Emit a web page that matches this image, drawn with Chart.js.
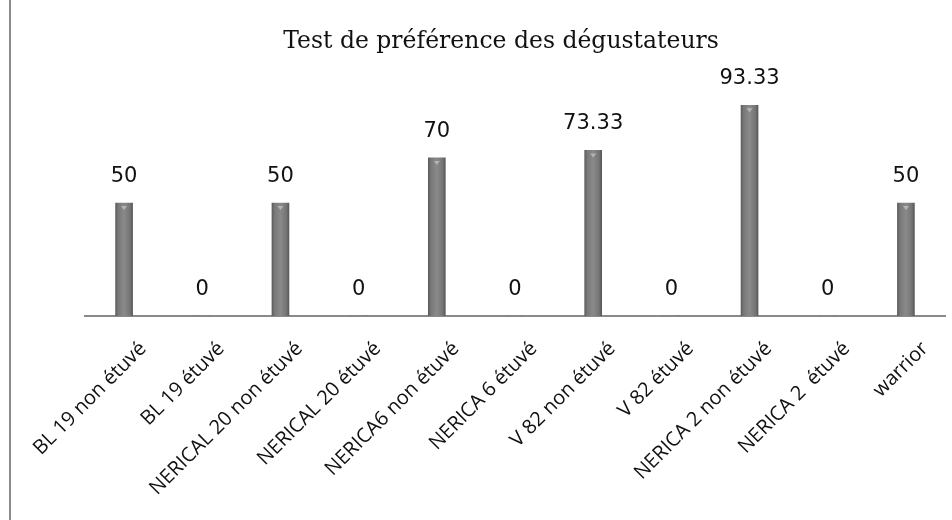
<!DOCTYPE html>
<html>
<head>
<meta charset="utf-8">
<script src="https://cdn.jsdelivr.net/npm/chart.js@4.4.1/dist/chart.umd.min.js"></script>
<style>
  html, body { margin: 0; padding: 0; background: #fff; }
  #wrap { position: relative; width: 952px; height: 520px; }
  #edge { position: absolute; left: 9px; top: 0; width: 2px; height: 520px; background: #8a8a8a; }
  canvas { position: absolute; left: 0; top: 0; }
</style>
</head>
<body>
<div id="wrap">
  <canvas id="c" width="952" height="520"></canvas>
  <div id="edge"></div>
</div>
<script>
const chartTitle = "Test de préférence des dégustateurs";
const categories = [
  "BL 19 non étuvé", "BL 19 étuvé", "NERICAL 20 non étuvé", "NERICAL 20 étuvé",
  "NERICA6 non étuvé", "NERICA 6 étuvé", "V 82 non étuvé", "V 82 étuvé",
  "NERICA 2 non étuvé", "NERICA 2  étuvé", "warrior"
];
const preference = [50, 0, 50, 0, 70, 0, 73.33, 0, 93.33, 0, 50];
const valueLabels = ["50", "0", "50", "0", "70", "0", "73.33", "0", "93.33", "0", "50"];

function barFill(ctx) {
  const chart = ctx.chart;
  const meta = chart.getDatasetMeta(ctx.datasetIndex);
  const el = meta && meta.data ? meta.data[ctx.dataIndex] : null;
  if (!el || !Number.isFinite(el.x) || !Number.isFinite(el.width) || el.width <= 0) return '#7f7f7f';
  const w = el.width;
  const g = chart.ctx.createLinearGradient(el.x - w / 2, 0, el.x + w / 2, 0);
  g.addColorStop(0, '#5c5c5c');
  g.addColorStop(0.15, '#787878');
  g.addColorStop(0.5, '#8a8a8a');
  g.addColorStop(0.85, '#747474');
  g.addColorStop(1, '#585858');
  return g;
}

const valueLabelPlugin = {
  id: 'valueLabels',
  afterDatasetsDraw(chart) {
    const ctx = chart.ctx;
    const meta = chart.getDatasetMeta(0);
    ctx.save();
    meta.data.forEach((bar, i) => {
      if (preference[i] > 0) {
        ctx.fillStyle = '#b4b4b4';
        ctx.beginPath();
        ctx.moveTo(bar.x - 3, bar.y + 3);
        ctx.lineTo(bar.x + 3, bar.y + 3);
        ctx.lineTo(bar.x, bar.y + 7);
        ctx.closePath();
        ctx.fill();
      }
    });
    ctx.font = '21px "DejaVu Sans"';
    ctx.fillStyle = '#111';
    ctx.textAlign = 'center';
    ctx.textBaseline = 'middle';
    meta.data.forEach((bar, i) => {
      ctx.fillText(valueLabels[i], bar.x, bar.y - 26.5);
    });
    ctx.restore();
  }
};

const chart = new Chart(document.getElementById('c'), {
  type: 'bar',
  data: {
    labels: categories,
    datasets: [{
      data: preference,
      backgroundColor: barFill,
      borderWidth: 0,
      barThickness: 17,
      yAxisID: 'y'
    }]
  },
  options: {
    responsive: false,
    animation: false,
    events: [],
    layout: { padding: { left: 50, right: 0, top: 0, bottom: 0 } },
    plugins: {
      legend: { display: false },
      tooltip: { enabled: false },
      title: {
        display: true,
        text: chartTitle,
        color: '#111',
        font: { family: '"DejaVu Serif"', size: 23.5, weight: 'normal', lineHeight: 1.2 },
        padding: { top: 28, bottom: 34 }
      }
    },
    scales: {
      x: {
        grid: { display: false, drawTicks: false },
        border: { display: true, color: '#8a8a8a', width: 2 },
        ticks: {
          color: '#111',
          font: { family: '"Open Sans"', size: 20 },
          maxRotation: 45,
          minRotation: 45,
          autoSkip: false,
          labelOffset: 19,
          padding: 21
        },
        afterFit(scale) {
          scale.height = 204;
          scale.paddingLeft = 0;
          scale.paddingRight = 0;
        }
      },
      y: {
        display: true,
        position: 'left',
        min: 0,
        max: 100,
        grid: { display: false, drawTicks: false },
        border: { display: false },
        ticks: { display: false },
        afterFit(scale) { scale.width = 35; }
      },
      yRight: {
        type: 'linear',
        display: true,
        position: 'right',
        min: 0,
        max: 100,
        grid: { display: false, drawTicks: false },
        border: { display: false },
        ticks: { display: false },
        afterFit(scale) { scale.width = 7; }
      }
    }
  },
  plugins: [valueLabelPlugin]
});
chart.update();
</script>
</body>
</html>
